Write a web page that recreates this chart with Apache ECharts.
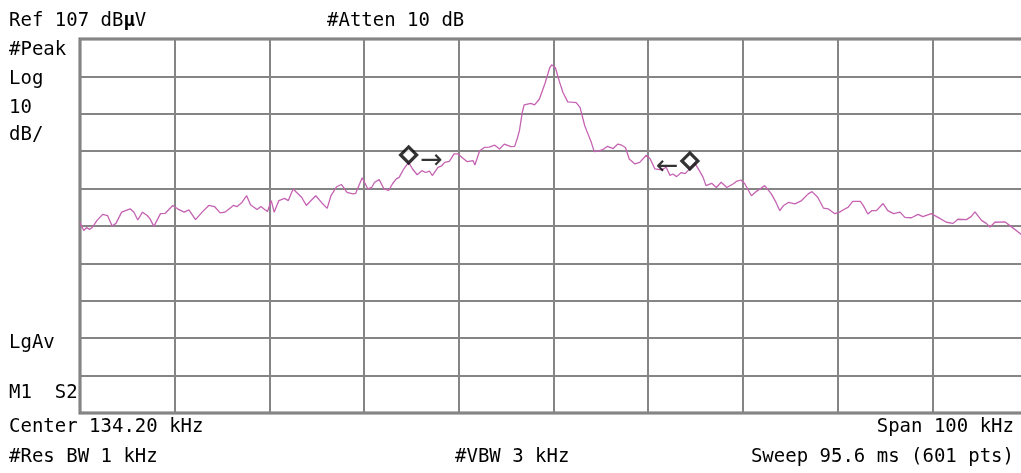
<!DOCTYPE html>
<html>
<head>
<meta charset="utf-8">
<script src="https://cdn.jsdelivr.net/npm/echarts@6/dist/echarts.min.js"></script>
<style>
html,body{margin:0;padding:0;background:#fff;}
#chart{width:1021px;height:473px;}
</style>
</head>
<body>
<div id="chart"></div>
<script>
// Frequency (kHz) / level (dBµV) pairs
const trace = [
[84.2,57.9],[84.6,55.8],[84.9,56.6],[85.2,56.1],[85.5,56.6],[86.0,58.5],[86.6,60.1],[87.1,59.8],[87.6,57.0],[88.0,57.7],
[88.6,60.7],[89.5,61.6],[89.9,60.7],[90.3,58.6],[90.8,60.7],[91.3,59.8],[91.6,58.9],[92.0,56.9],[92.7,60.3],[93.2,60.4],
[94.0,62.5],[94.5,61.6],[95.2,60.7],[95.7,61.3],[96.4,58.7],[97.1,60.7],[97.8,62.5],[98.4,62.2],[99.0,60.5],[99.5,60.7],
[100.4,62.5],[100.8,62.2],[101.3,63.3],[101.8,65.1],[102.2,62.7],[102.9,61.4],[103.3,62.2],[103.7,61.4],[104.0,60.9],[104.4,63.8],
[104.7,60.7],[105.2,63.8],[105.8,64.4],[106.2,63.8],[106.7,66.9],[107.6,64.7],[108.1,62.5],[108.6,63.8],[109.1,65.1],[109.7,63.3],
[110.3,61.7],[110.7,65.1],[111.3,67.5],[111.8,68.1],[112.4,66.0],[113.0,65.6],[113.3,65.7],[114.0,69.9],[114.6,66.9],[115.0,67.3],
[115.3,68.7],[115.8,69.4],[116.3,66.9],[116.8,66.5],[117.2,68.3],[117.6,69.6],[117.9,70.0],[118.4,72.3],[118.9,74.0],[119.3,72.3],
[119.8,70.7],[120.3,71.8],[120.7,71.3],[121.1,71.7],[121.4,70.5],[122.0,72.7],[122.4,73.1],[122.7,74.0],[123.2,74.3],[123.7,76.3],
[124.1,76.3],[124.3,75.8],[124.6,75.2],[125.1,74.2],[125.7,74.5],[125.9,73.3],[126.4,77.1],[126.9,78.0],[127.4,78.1],[128.0,78.6],
[128.5,77.6],[129.0,78.9],[129.7,78.2],[130.1,78.3],[130.4,80.6],[130.6,82.5],[130.9,87.3],[131.1,89.4],[131.8,89.8],[132.2,89.4],
[132.7,90.9],[133.3,95.1],[133.8,99.3],[134.0,100.1],[134.4,99.3],[134.7,96.7],[134.8,95.8],[135.2,92.7],[135.7,90.2],[136.1,90.1],
[136.6,90.0],[137.0,88.7],[137.5,83.8],[137.7,82.5],[138.2,79.3],[138.5,76.9],[138.9,77.0],[139.4,77.4],[139.9,78.3],[140.5,77.7],
[141.0,78.9],[141.4,78.6],[141.8,78.0],[142.2,74.9],[142.8,73.6],[143.3,74.0],[144.0,75.9],[144.4,75.0],[144.9,72.3],[145.6,72.0],
[146.1,72.7],[146.5,70.5],[146.8,70.9],[147.2,70.2],[147.7,71.3],[148.1,71.0],[148.4,71.8],[148.8,72.9],[149.1,73.9],[149.6,71.8],
[150.0,70.0],[150.3,67.8],[150.9,68.4],[151.4,67.3],[151.9,68.7],[152.5,67.3],[153.2,68.3],[153.5,68.9],[154.0,69.3],[154.4,68.3],
[155.1,65.1],[155.6,66.2],[156.0,66.9],[156.5,67.8],[157.2,65.6],[157.7,63.3],[158.1,61.1],[158.5,62.5],[159.0,63.3],[159.7,62.9],
[160.4,63.8],[161.1,65.6],[161.5,66.2],[162.1,64.7],[162.7,61.8],[163.2,61.6],[163.9,60.3],[164.4,60.7],[165.0,61.6],[165.3,62.0],
[165.8,63.6],[166.6,63.6],[166.9,62.5],[167.4,60.2],[167.8,61.1],[168.3,61.1],[169.0,63.0],[169.5,61.1],[170.1,60.3],[170.8,60.7],
[171.3,59.3],[172.0,59.2],[172.7,60.1],[173.2,59.5],[174.1,60.3],[174.8,59.3],[175.7,58.0],[176.4,57.7],[176.9,58.8],[177.8,58.7],
[178.3,59.5],[178.7,60.8],[179.4,58.5],[179.9,57.7],[180.3,56.7],[180.8,58.0],[181.9,58.1],[182.6,56.7],[183.5,54.9],[184.2,53.9]
];

// Delta markers (kHz, dBµV, arrow label)
const markerFreq = [118.9, 148.6];
const markerDb = [76.0, 74.4];
const markerArrow = ['\u2192', '\u2190'];

// Axis settings: Ref 107 dBµV, 10 dB/div; Center 134.20 kHz, Span 100 kHz
const yMin = 7, yMax = 107, yStep = 10;
const xMin = 84.2, xMax = 184.2, xStep = 10;

const FONT = '"DejaVu Sans Mono", "Liberation Mono", monospace';
const FS = 19;

function txt(x, y, s, align) {
  return {
    type: 'text', x: x, y: y, silent: true,
    style: {
      text: s, fill: '#000', font: FS + 'px ' + FONT,
      align: align || 'left', verticalAlign: 'middle',
      rich: { b: { fontWeight: 'bold', fontSize: FS, fontFamily: FONT, fill: '#000' } }
    }
  };
}

const chart = echarts.init(document.getElementById('chart'), null, { renderer: 'canvas' });

const markerData = markerFreq.map((f, i) => ({
  value: [f, markerDb[i]],
  label: {
    show: true,
    formatter: markerArrow[i],
    position: i === 0 ? 'right' : 'left',
    distance: 2,
    offset: [0, 6],
    color: '#000',
    fontSize: 27,
    fontFamily: '"DejaVu Sans", sans-serif'
  }
}));

chart.setOption({
  animation: false,
  backgroundColor: '#ffffff',
  grid: {
    left: 80, top: 39, right: -6, bottom: 60,
    outerBoundsMode: 'none',
    show: true, borderColor: '#707070', borderWidth: 3, backgroundColor: 'transparent',
    containLabel: false
  },
  xAxis: {
    type: 'value', min: xMin, max: xMax, interval: xStep,
    axisLine: { show: false }, axisTick: { show: false }, axisLabel: { show: false },
    splitLine: { show: true, lineStyle: { color: '#858585', width: 2 } }
  },
  yAxis: {
    type: 'value', min: yMin, max: yMax, interval: yStep,
    axisLine: { show: false }, axisTick: { show: false }, axisLabel: { show: false },
    splitLine: { show: true, lineStyle: { color: '#858585', width: 2 } }
  },
  series: [
    {
      type: 'line',
      data: trace,
      showSymbol: false,
      smooth: false,
      lineStyle: { color: '#c562b2', width: 1.3 },
      clip: true,
      z: 3
    },
    {
      type: 'scatter',
      data: markerData,
      symbol: 'diamond',
      symbolSize: [16, 16],
      itemStyle: { color: '#ffffff', borderColor: '#000000', borderWidth: 3.2 },
      z: 5
    }
  ],
  graphic: [
    txt(9, 21, 'Ref 107 dB{b|\u00b5}V'),
    txt(327, 21, '#Atten 10 dB'),
    txt(9, 50, '#Peak'),
    txt(9, 79, 'Log'),
    txt(9, 108, '10'),
    txt(9, 135, 'dB/'),
    txt(9, 343, 'LgAv'),
    txt(9, 393, 'M1  S2'),
    txt(9, 427, 'Center 134.20 kHz'),
    txt(9, 457, '#Res BW 1 kHz'),
    txt(455, 457, '#VBW 3 kHz'),
    txt(1014, 427, 'Span 100 kHz', 'right'),
    txt(1014, 457, 'Sweep 95.6 ms (601 pts)', 'right')
  ]
});
</script>
</body>
</html>
